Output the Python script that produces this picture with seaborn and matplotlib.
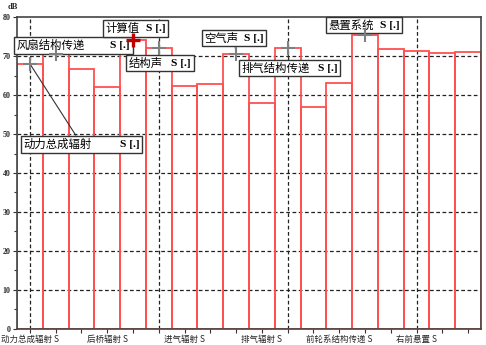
import matplotlib
matplotlib.use("Agg")
import matplotlib.pyplot as plt
import seaborn as sns
import numpy as np
import pandas as pd
from matplotlib.offsetbox import TextArea, HPacker, AnnotationBbox
from matplotlib.ticker import MultipleLocator

# ---- data ----
bar_index = list(range(18))
values = [68.0, 70.5, 66.7, 62.1, 74.1, 72.1, 62.3, 62.7, 70.6,
          57.9, 72.1, 56.8, 63.1, 75.4, 71.7, 71.4, 70.8, 71.1]
tick_labels = ["动力总成辐射 S", "", "", "后桥辐射 S", "", "", "进气辐射 S", "", "",
               "排气辐射 S", "", "", "前轮系结构传递 S", "", "", "右前悬置 S", "", ""]
vgrid_bars = [0, 5, 10, 15]
ann_names = ["动力总成辐射", "风扇结构传递", "计算值", "结构声", "空气声", "排气结构传递", "悬置系统"]
ann_bars = [0, 1, 4, 5, 8, 10, 13]
ann_box_x = [2.0, 1.69, 4.10, 5.05, 7.92, 10.07, 12.96]
ann_box_y = [47.4, 72.7, 77.05, 68.2, 74.6, 66.9, 77.9]
ann_gap = [20, 18, 4, 6, 4, 6, 4]

sns.set_style("white")
plt.rcParams['font.family'] = ['Noto Sans CJK SC', 'DejaVu Sans']

fig = plt.figure(figsize=(4.86, 3.45), dpi=100)
ax = fig.add_axes([0.035, 0.0464, 0.9547, 0.9043])

df = pd.DataFrame({"bar": bar_index, "value": values})
red = "#ff5050"
sns.barplot(data=df, x="bar", y="value", width=1.0, fill=False, color=red,
            linewidth=1.3, ax=ax, errorbar=None, zorder=3)

ax.set_xlim(-0.5, 17.5)
ax.set_ylim(0, 80)
ax.set_xlabel("")
ax.set_ylabel("")

# grid
for yv in range(10, 80, 10):
    ax.axhline(yv, color="#222222", ls=(0, (3, 2)), lw=0.9, zorder=1)
for b in vgrid_bars:
    ax.axvline(b, color="#222222", ls=(0, (3, 2)), lw=0.9, zorder=1)

# ticks
ax.set_xticks(bar_index)
ax.set_xticklabels(tick_labels, fontsize=6.1, family=['Noto Sans CJK SC', 'DejaVu Sans'])
ax.yaxis.set_major_locator(MultipleLocator(10))
ax.yaxis.set_minor_locator(MultipleLocator(5))
ax.set_yticks(range(0, 81, 10))
ax.set_yticklabels([str(v) for v in range(0, 81, 10)], fontsize=5.8,
                   family='Liberation Serif', fontweight='bold')
ax.tick_params(axis='both', which='both', direction='out', length=3, width=0.8,
               color='#333333', pad=1.5, bottom=True, left=True)
ax.tick_params(axis='y', which='minor', length=2)
for s in ax.spines.values():
    s.set_color('#444444')
    s.set_linewidth(1.2)
    s.set_zorder(5)

ax.text(-0.01, 1.02, "dB", transform=ax.transAxes, fontsize=6,
        family='Liberation Serif', fontweight='bold', ha='center', va='bottom')

# markers + annotations
for name, b, bx, by, g in zip(ann_names, ann_bars, ann_box_x, ann_box_y, ann_gap):
    v = values[b]
    if name == "计算值":
        ax.plot(b, v, marker='+', ms=10, mew=2.4, color='#c00000', zorder=8)
    else:
        ax.plot(b, v, marker='+', ms=10, mew=1.5, color='#808080', zorder=8)
    t1 = TextArea(name, textprops=dict(fontsize=8.2, family='Noto Sans CJK SC', color='black'))
    t2 = TextArea("S [.]", textprops=dict(fontsize=8.2, family='Liberation Serif',
                                          fontweight='bold', color='black'))
    pack = HPacker(children=[t1, t2], align='center', pad=0, sep=g)
    ab = AnnotationBbox(pack, (b, v), xybox=(bx, by), xycoords='data', boxcoords='data',
                        frameon=True, pad=0.2,
                        bboxprops=dict(edgecolor='#333333', facecolor='white', lw=1.0),
                        arrowprops=dict(arrowstyle='-', color='#333333', lw=0.8,
                                        shrinkA=0, shrinkB=0),
                        zorder=7)
    ax.add_artist(ab)

fig.savefig("out.png", dpi=100)
